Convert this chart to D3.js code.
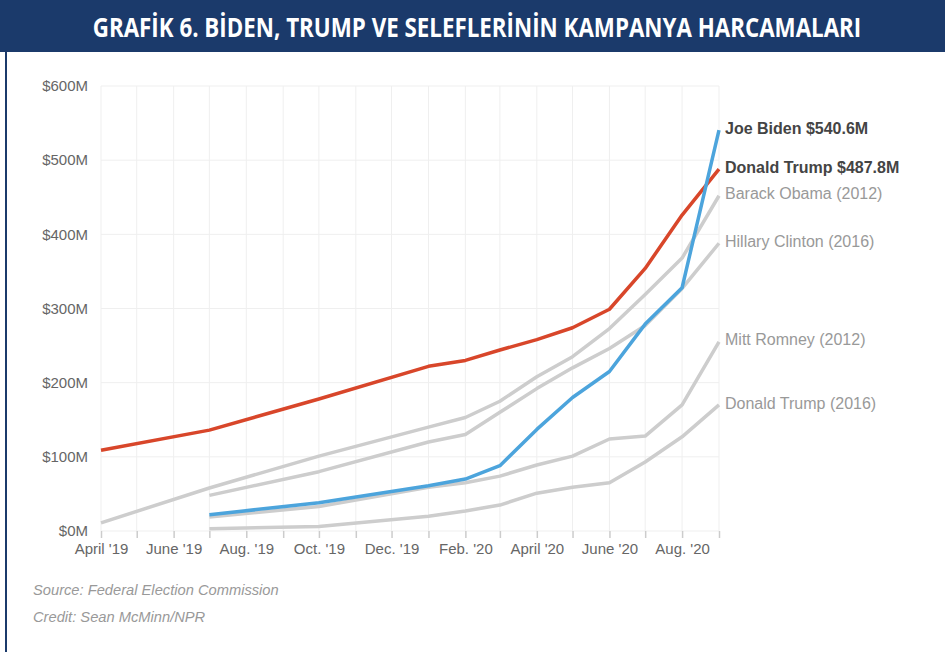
<!DOCTYPE html>
<html>
<head>
<meta charset="utf-8">
<script src="https://cdn.jsdelivr.net/npm/d3@7"></script>
<style>
  body { margin: 0; background: #fff; }
  svg { display: block; }
</style>
</head>
<body>
<svg id="chart" width="945" height="652"></svg>
<script>
// report dates (end of each filing period, shown as first of next month)
var dates = ["2019-04-01","2019-07-01","2019-10-01","2020-01-01","2020-02-01","2020-03-01",
             "2020-04-01","2020-05-01","2020-06-01","2020-07-01","2020-08-01","2020-09-01"];

// cumulative spending, $M (null = no report yet)
var trump2020 = [109, 136, 178, 222, 230, 244, 258, 274, 299, 354, 426, 487.8];
var biden     = [null, 22, 38, 61, 70, 88, 137, 180, 215, 279, 328, 540.6];
var obama     = [11, 58, 101, 140, 153, 175, 208, 235, 273, 319, 368, 452];
var clinton   = [null, 48, 80, 120, 130, 160, 192, 220, 246, 277, 327, 388];
var romney    = [null, 19, 33, 59, 65, 74, 89, 101, 124, 128, 170, 255];
var trump2016 = [null, 3, 6, 20, 27, 35, 51, 59, 65, 93, 127, 170];

var yTicks = [0, 100, 200, 300, 400, 500, 600];
var xLabels = ["April '19","June '19","Aug. '19","Oct. '19","Dec. '19","Feb. '20","April '20","June '20","Aug. '20"];

var title = "GRAFİK 6. BİDEN, TRUMP VE SELEFLERİNİN KAMPANYA HARCAMALARI";

var parse = d3.timeParse("%Y-%m-%d");
var dateObjs = dates.map(parse);

var svg = d3.select("#chart");
var fontFam = "'Liberation Sans', Arial, Helvetica, sans-serif";

// header band and frame
svg.append("rect").attr("x", 0).attr("y", 0).attr("width", 945).attr("height", 52).attr("fill", "#1b3a6b");
svg.append("line").attr("x1", 6).attr("x2", 6).attr("y1", 52).attr("y2", 652)
  .attr("stroke", "#1b3a6b").attr("stroke-width", 2);

// title is a condensed face in the original, so squeeze it horizontally
var titleText = svg.append("text")
  .attr("text-anchor", "middle")
  .attr("font-family", "'Open Sans', 'Noto Sans', sans-serif")
  .attr("font-weight", "bold")
  .attr("font-size", "26px")
  .attr("fill", "#fff")
  .text(title);
var tw = titleText.node().getComputedTextLength();
titleText.attr("transform", "translate(477,37) scale(" + (769 / tw) + ",1)");

// scales
var xs = d3.scaleTime().domain([parse("2019-04-01"), parse("2020-09-01")]).range([101, 719]);
var ys = d3.scaleLinear().domain([0, 600]).range([531, 86]);

// gridlines
var months = d3.timeMonth.range(parse("2019-04-01"), parse("2020-09-02"));
svg.append("g").selectAll("line").data(months).enter().append("line")
  .attr("x1", function(d) { return xs(d); })
  .attr("x2", function(d) { return xs(d); })
  .attr("y1", ys(600)).attr("y2", ys(0))
  .attr("stroke", "#efefef").attr("stroke-width", 1);
svg.append("g").selectAll("line").data(yTicks).enter().append("line")
  .attr("x1", xs.range()[0]).attr("x2", xs.range()[1])
  .attr("y1", function(d) { return ys(d); })
  .attr("y2", function(d) { return ys(d); })
  .attr("stroke", "#efefef").attr("stroke-width", 1);

// y axis
var yAxis = svg.append("g").attr("transform", "translate(101,0)")
  .call(d3.axisLeft(ys).tickValues(yTicks).tickSize(0).tickPadding(13)
    .tickFormat(function(d) { return "$" + d + "M"; }));
yAxis.select(".domain").remove();
yAxis.selectAll("text").attr("font-family", fontFam).attr("font-size", "15px").attr("fill", "#666");

// x axis, a tick every month, label every other month
var xAxis = svg.append("g").attr("transform", "translate(0,531)")
  .call(d3.axisBottom(xs).tickValues(months).tickSize(7).tickPadding(5)
    .tickFormat(function(d, i) { return i % 2 == 0 ? xLabels[i / 2] : ""; }));
xAxis.select(".domain").remove();
xAxis.selectAll("line").attr("stroke", "#ccc").attr("stroke-width", 1.5);
xAxis.selectAll("text").attr("font-family", fontFam).attr("font-size", "15px").attr("fill", "#666");

// series
var series = [
  {name: "Barack Obama (2012)", vals: obama, color: "#cdcdcd", bold: false, tcol: "#999"},
  {name: "Hillary Clinton (2016)", vals: clinton, color: "#cdcdcd", bold: false, tcol: "#999"},
  {name: "Mitt Romney (2012)", vals: romney, color: "#cdcdcd", bold: false, tcol: "#999"},
  {name: "Donald Trump (2016)", vals: trump2016, color: "#cdcdcd", bold: false, tcol: "#999"},
  {name: "Donald Trump $487.8M", vals: trump2020, color: "#d8462a", bold: true, tcol: "#444"},
  {name: "Joe Biden $540.6M", vals: biden, color: "#4ca4dc", bold: true, tcol: "#444"}
];

var line = d3.line()
  .defined(function(d) { return d.v != null; })
  .x(function(d) { return xs(d.date); })
  .y(function(d) { return ys(d.v); });

series.forEach(function(s) {
  var pts = s.vals.map(function(v, i) { return {date: dateObjs[i], v: v}; });
  svg.append("path")
    .datum(pts)
    .attr("fill", "none")
    .attr("stroke", s.color)
    .attr("stroke-width", 3.5)
    .attr("stroke-linejoin", "round")
    .attr("d", line);

  // label at the end of the line
  var last = pts[pts.length - 1];
  svg.append("text")
    .attr("x", xs(last.date) + 6)
    .attr("y", ys(last.v) - 2)
    .attr("dy", "0.35em")
    .attr("font-family", fontFam)
    .attr("font-size", "16px")
    .attr("font-weight", s.bold ? "bold" : "normal")
    .attr("fill", s.tcol)
    .text(s.name);
});

// notes
svg.append("text").attr("x", 33).attr("y", 595)
  .attr("font-family", fontFam).attr("font-size", "14.7px").attr("font-style", "italic")
  .attr("fill", "#999").text("Source: Federal Election Commission");
svg.append("text").attr("x", 33).attr("y", 622)
  .attr("font-family", fontFam).attr("font-size", "14.7px").attr("font-style", "italic")
  .attr("fill", "#999").text("Credit: Sean McMinn/NPR");
</script>
</body>
</html>
